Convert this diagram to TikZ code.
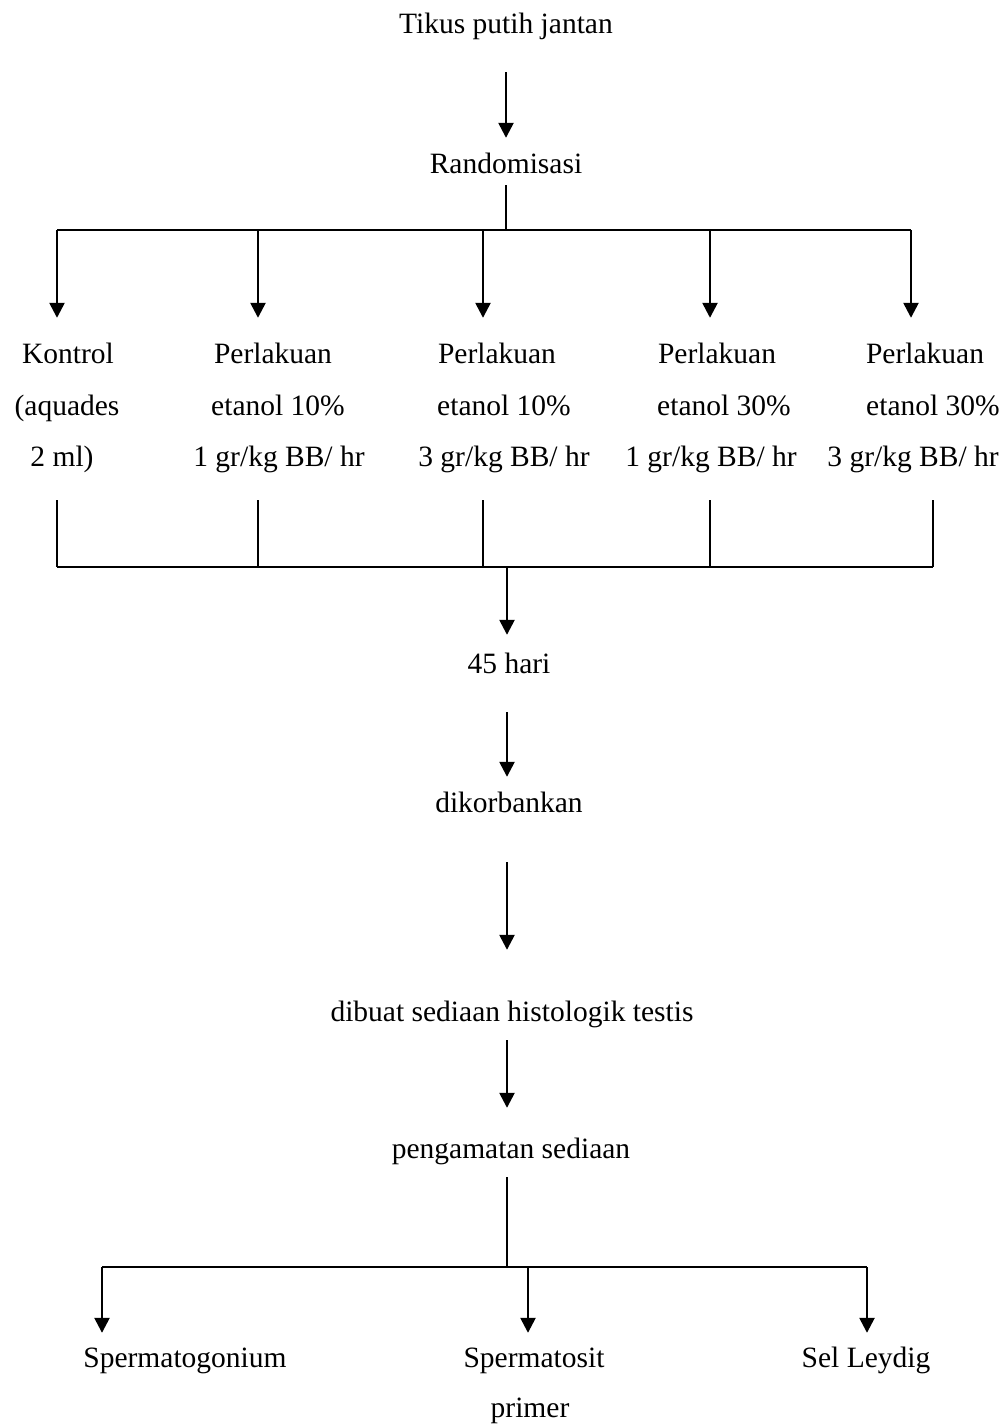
\documentclass[tikz,border=0pt]{standalone}
\usepackage{fontspec}
\setmainfont{Liberation Serif}
\usetikzlibrary{arrows.meta}
\newcommand\myfs{\fontsize{29.5pt}{35pt}\selectfont}
\begin{document}
\begin{tikzpicture}[x=1pt,y=-1pt,
  lbl/.style={inner sep=0pt, text height=20pt, text depth=7pt, anchor=base, font=\myfs},
  ln/.style={line width=2.5pt},
  arr/.style={ln, -{Triangle[width=15pt,length=15pt]}}]
\useasboundingbox[fill=white] (0,0) rectangle (1007,1424);

% texts
\node[lbl] (tikus) at (506,33) {Tikus putih jantan};
\node[lbl] (rand) at (506,173) {Randomisasi};

\node[lbl] (k1a) at (68,363) {Kontrol};
\node[lbl] (k1b) at (67,415) {(aquades};
\node[lbl] (k1c) at (62,466) {2 ml)};

\node[lbl] (p2a) at (273,363) {Perlakuan};
\node[lbl] (p2b) at (278,415) {etanol 10\%};
\node[lbl] (p2c) at (279,466) {1 gr/kg BB/ hr};

\node[lbl] (p3a) at (497,363) {Perlakuan};
\node[lbl] (p3b) at (504,415) {etanol 10\%};
\node[lbl] (p3c) at (504,466) {3 gr/kg BB/ hr};

\node[lbl] (p4a) at (717,363) {Perlakuan};
\node[lbl] (p4b) at (724,415) {etanol 30\%};
\node[lbl] (p4c) at (711,466) {1 gr/kg BB/ hr};

\node[lbl] (p5a) at (925,363) {Perlakuan};
\node[lbl] (p5b) at (933,415) {etanol 30\%};
\node[lbl] (p5c) at (913,466) {3 gr/kg BB/ hr};

\node[lbl] (hari) at (509,673) {45 hari};
\node[lbl] (korban) at (509,812) {dikorbankan};
\node[lbl] (buat) at (512,1021) {dibuat sediaan histologik testis};
\node[lbl] (amat) at (511,1158) {pengamatan sediaan};

\node[lbl] (sg) at (185,1367) {Spermatogonium};
\node[lbl] (ss) at (534,1367) {Spermatosit};
\node[lbl] (pr) at (530,1417) {primer};
\node[lbl] (sl) at (866,1367) {Sel Leydig};

% bus coordinates
\coordinate (t1) at (57,230);
\coordinate (t2) at (258,230);
\coordinate (t3) at (483,230);
\coordinate (t4) at (710,230);
\coordinate (t5) at (911,230);

\coordinate (c1) at (57,567);
\coordinate (c2) at (258,567);
\coordinate (c3) at (483,567);
\coordinate (c4) at (710,567);
\coordinate (c5) at (933,567);
\coordinate (c0) at (507,567);

\coordinate (b0) at (507,1267);
\coordinate (b1) at (102,1267);
\coordinate (b2) at (528,1267);
\coordinate (b3) at (867,1267);

% connectors
\draw[arr, shorten <=32pt, shorten >=15pt] (tikus.south) -- (rand.north);

\draw[ln, shorten <=5pt] (rand.south) -- (rand.south |- t1);
\draw[ln] (t1) -- (t5);
\draw[arr, shorten >=25pt] (t1) -- (t1 |- k1a.north);
\draw[arr, shorten >=25pt] (t2) -- (t2 |- p2a.north);
\draw[arr, shorten >=25pt] (t3) -- (t3 |- p3a.north);
\draw[arr, shorten >=25pt] (t4) -- (t4 |- p4a.north);
\draw[arr, shorten >=25pt] (t5) -- (t5 |- p5a.north);

\draw[ln, shorten <=27pt] (c1 |- k1c.south) -- (c1);
\draw[ln, shorten <=27pt] (c2 |- p2c.south) -- (c2);
\draw[ln, shorten <=27pt] (c3 |- p3c.south) -- (c3);
\draw[ln, shorten <=27pt] (c4 |- p4c.south) -- (c4);
\draw[ln, shorten <=27pt] (c5 |- p5c.south) -- (c5);
\draw[ln] (c1) -- (c5);
\draw[arr, shorten >=18pt] (c0) -- (c0 |- hari.north);

\draw[arr, shorten <=32pt, shorten >=15pt] (c0 |- hari.south) -- (c0 |- korban.north);
\draw[arr, shorten <=43pt, shorten >=51pt] (c0 |- korban.south) -- (c0 |- buat.north);
\draw[arr, shorten <=12pt, shorten >=30pt] (c0 |- buat.south) -- (c0 |- amat.north);

\draw[ln, shorten <=12pt] (b0 |- amat.south) -- (b0);
\draw[ln] (b1) -- (b3);
\draw[arr, shorten >=14pt] (b1) -- (b1 |- sg.north);
\draw[arr, shorten >=14pt] (b2) -- (b2 |- ss.north);
\draw[arr, shorten >=14pt] (b3) -- (b3 |- sl.north);
\end{tikzpicture}
\end{document}
